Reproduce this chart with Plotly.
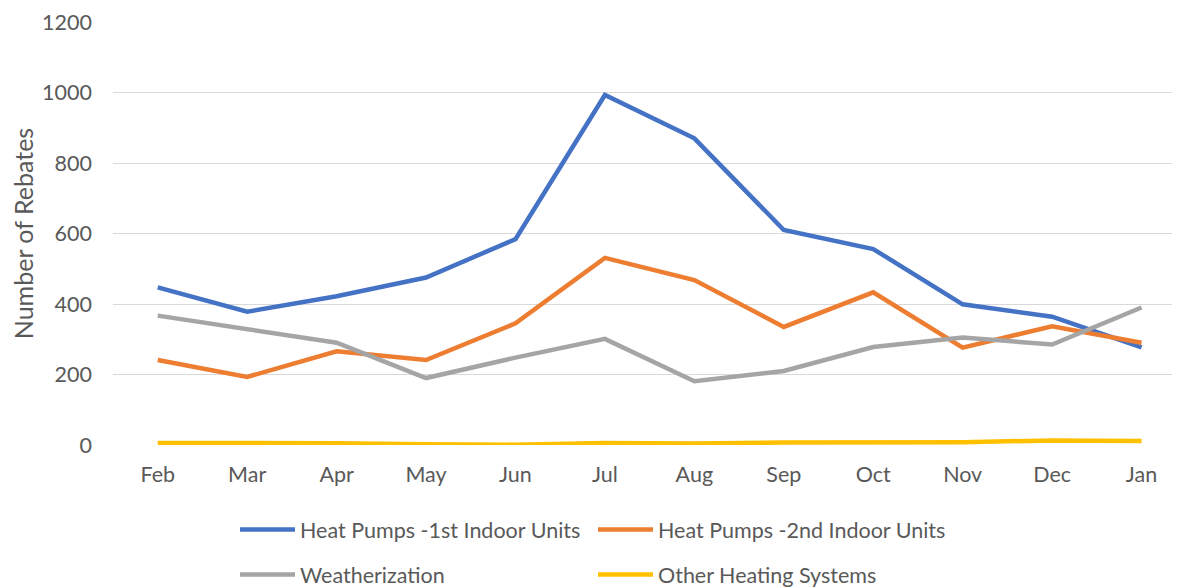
import plotly.graph_objects as go

months = ["Feb", "Mar", "Apr", "May", "Jun", "Jul", "Aug", "Sep", "Oct", "Nov", "Dec", "Jan"]
hp_first = [447, 378, 422, 475, 584, 993, 870, 610, 556, 399, 364, 277]
hp_second = [241, 193, 266, 241, 345, 531, 468, 335, 433, 276, 337, 290]
weatherization = [367, 329, 290, 190, 248, 301, 181, 210, 278, 305, 285, 390]
other_heating = [6, 6, 5, 2, 1, 6, 4, 7, 8, 8, 13, 11]

series = [
    ("Heat Pumps -1st Indoor Units", hp_first, "#4472C4", "legend"),
    ("Heat Pumps -2nd Indoor Units", hp_second, "#ED7D31", "legend"),
    ("Weatherization", weatherization, "#A5A5A5", "legend2"),
    ("Other Heating Systems", other_heating, "#FFC000", "legend2"),
]

FONT = "Lato"
GREY = "#595959"
FS = 21.5

# page has an 8px body margin; figure coordinates are page coordinates minus 8
W, H = 1172, 580
L, T, B = 105, 14.3, 143.3
PH = H - T - B
PW = W - L

fig = go.Figure()
for name, vals, color, lg in series:
    fig.add_trace(go.Scatter(
        x=months, y=vals, name=name, mode="lines",
        line=dict(color=color, width=4.5),
        legend=lg,
    ))

legend_common = dict(
    orientation="h", xanchor="left", yanchor="middle",
    entrywidth=288, entrywidthmode="pixels",
    itemwidth=55,
    font=dict(family=FONT, size=FS, color=GREY),
    bgcolor="rgba(0,0,0,0)",
    itemclick=False, itemdoubleclick=False,
)

def row_y(page_y):
    return -((page_y - 8) - (T + PH)) / PH

fig.update_layout(
    width=W, height=H,
    margin=dict(l=L, r=0, t=T, b=B, pad=0, autoexpand=False),
    paper_bgcolor="white", plot_bgcolor="white",
    showlegend=True,
    legend=dict(x=(235 - 8 - L) / PW, y=row_y(529), **legend_common),
    legend2=dict(x=(235 - 8 - L) / PW, y=row_y(574), **legend_common),
    xaxis=dict(
        type="category", range=[-0.5, 11.43],
        showgrid=False, showline=False, zeroline=False,
        ticks="", tickfont=dict(family=FONT, size=FS, color=GREY),
        ticklabelstandoff=14,
    ),
    yaxis=dict(
        range=[0, 1200], dtick=200,
        showgrid=True, gridcolor="#D9D9D9", gridwidth=1.3,
        zeroline=False, showline=False, ticks="",
        tickfont=dict(family=FONT, size=FS, color=GREY),
        ticklabelstandoff=20,
        title=dict(text="Number of Rebates", font=dict(family=FONT, size=25, color=GREY), standoff=12),
    ),
)

fig.write_html("out.html")
